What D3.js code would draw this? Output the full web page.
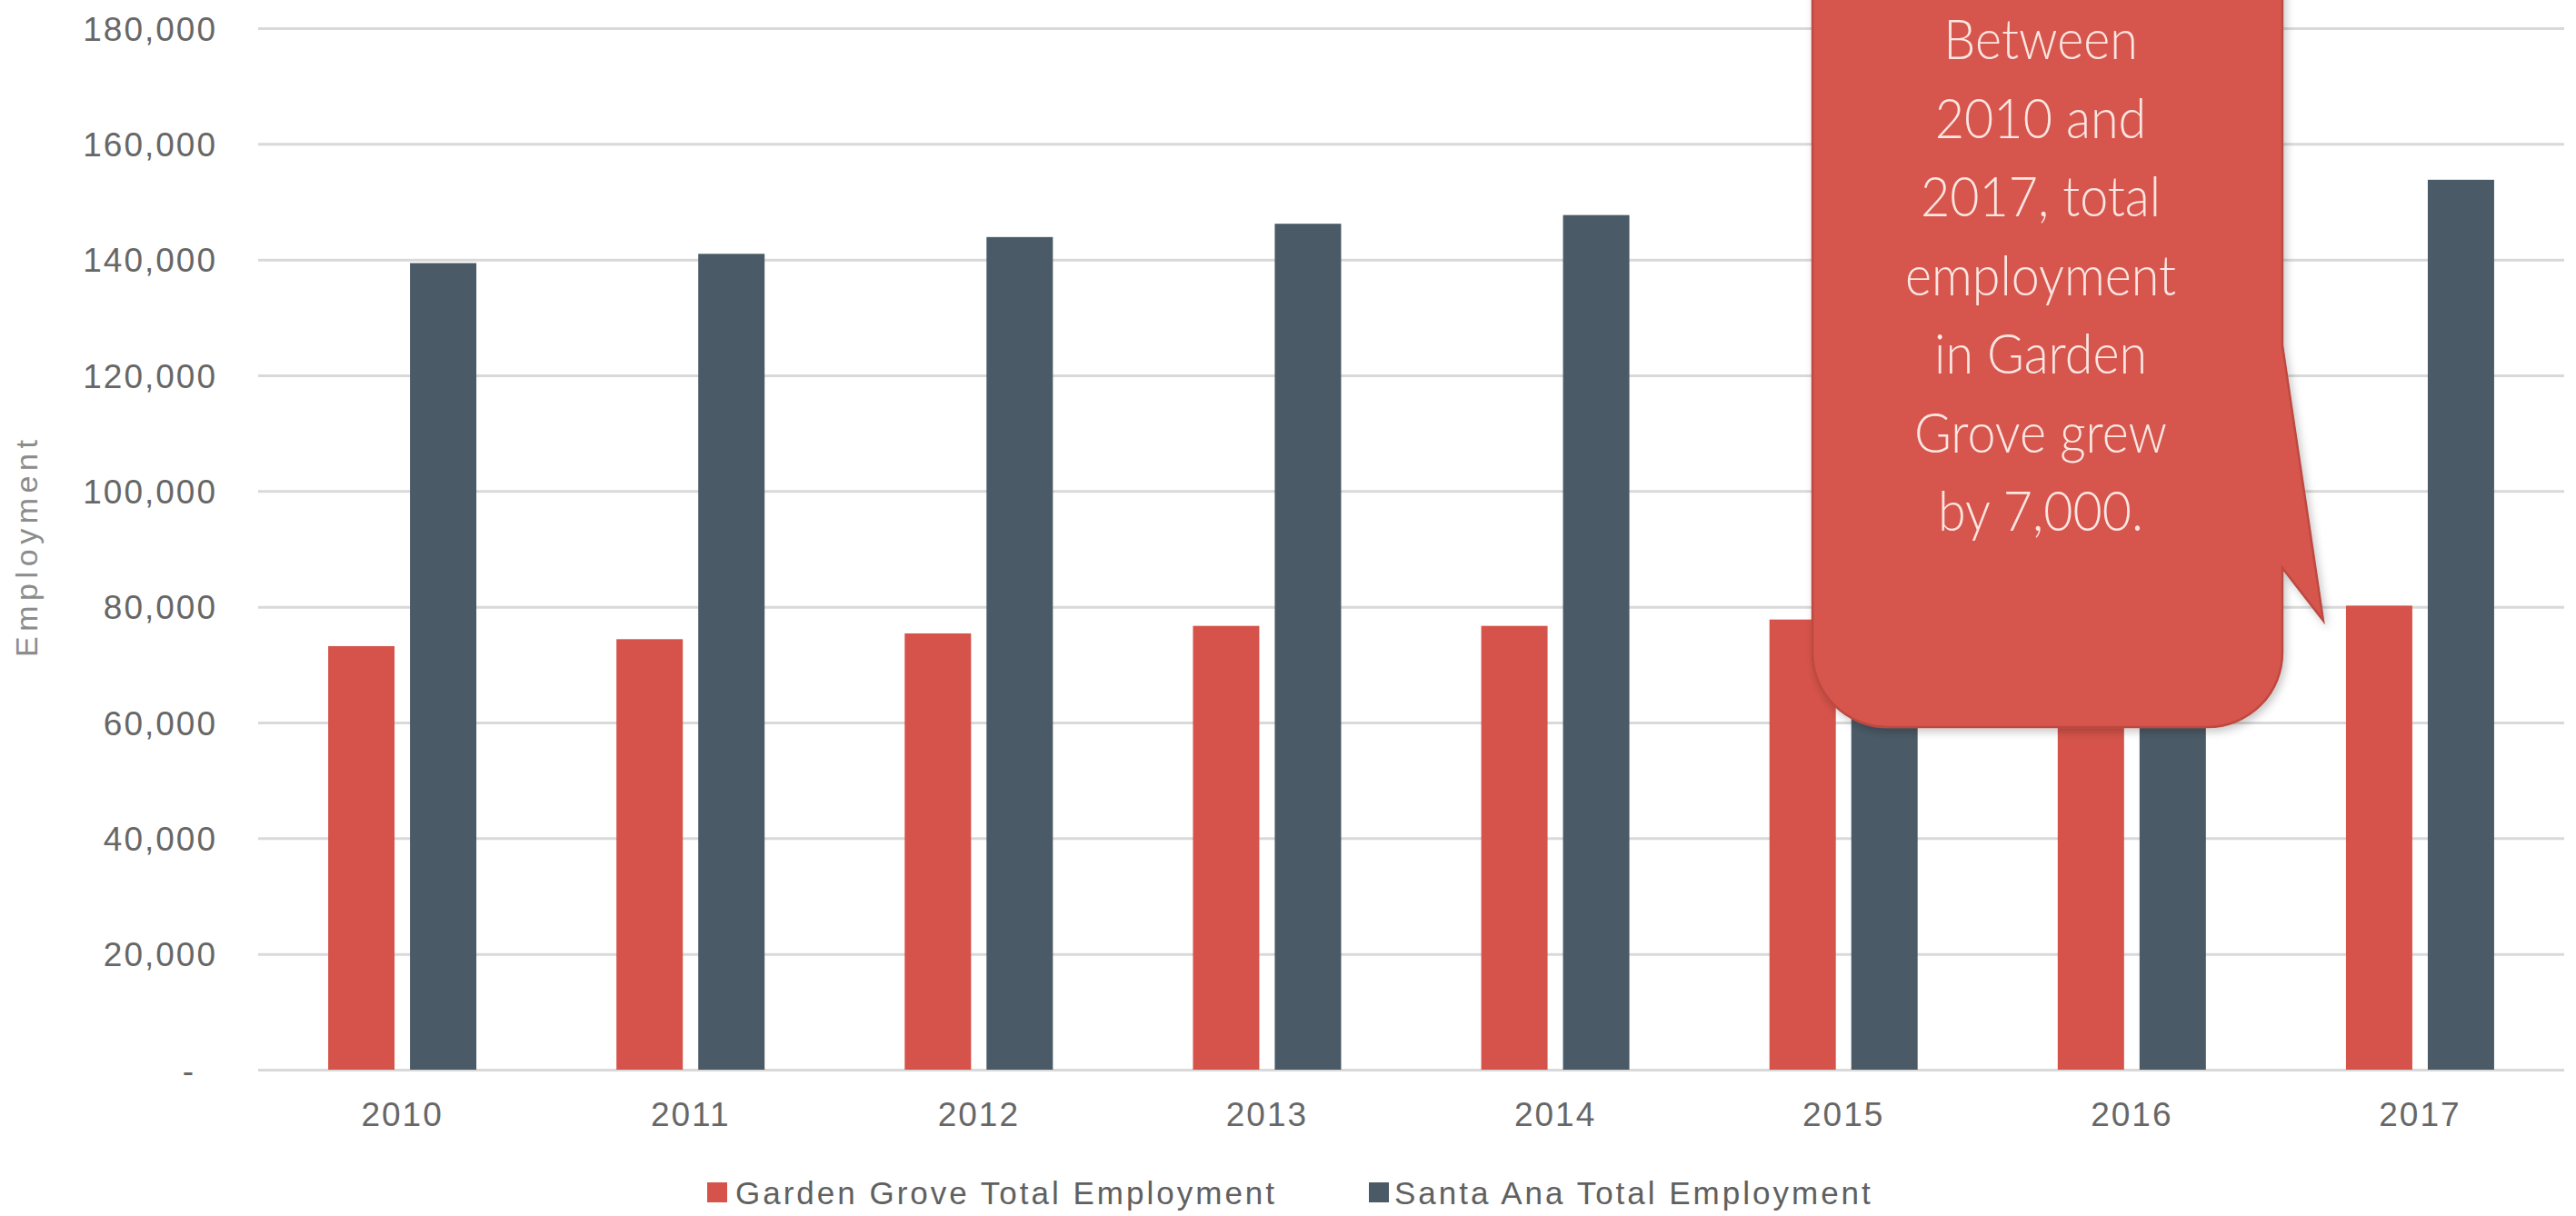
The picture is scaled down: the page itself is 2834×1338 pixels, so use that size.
<!DOCTYPE html>
<html>
<head>
<meta charset="utf-8">
<script src="https://cdn.jsdelivr.net/npm/d3@7"></script>
<style>
  html, body { margin: 0; padding: 0; background: #ffffff; }
  svg { display: block; }
</style>
</head>
<body>
<svg id="chart" width="2834" height="1338"></svg>
<script>
// ---- Data ----
const years = ["2010", "2011", "2012", "2013", "2014", "2015", "2016", "2017"];
const gardenGrove = [73200, 74400, 75400, 76700, 76700, 77800, 79000, 80200];
const santaAna = [139400, 141000, 143900, 146200, 147700, 150000, 151800, 153800];
const seriesNames = ["Garden Grove Total Employment", "Santa Ana Total Employment"];
const yTicks = [0, 20000, 40000, 60000, 80000, 100000, 120000, 140000, 160000, 180000];
const yTitle = "Employment";
const calloutLines = ["Between", "2010 and", "2017, total", "employment", "in Garden", "Grove grew", "by 7,000."];

// ---- Layout ----
const plot = { left: 284, right: 2821, top: 31, bottom: 1177 };
const colors = ["#d5534a", "#4a5a66"];
const svg = d3.select("#chart");

const defs = svg.append("defs");
const f = defs.append("filter").attr("id", "shadow").attr("x", "-10%").attr("y", "-10%").attr("width", "130%").attr("height", "130%");
f.append("feDropShadow").attr("dx", 3).attr("dy", 4).attr("stdDeviation", 5).attr("flood-color", "#000").attr("flood-opacity", 0.22);

const x0 = d3.scaleBand().domain(years).range([plot.left, plot.right]).padding(0);
const groupW = 163;
const x1 = d3.scaleBand().domain([0, 1])
  .range([(x0.bandwidth() - groupW) / 2, (x0.bandwidth() + groupW) / 2])
  .paddingInner(0.1889).paddingOuter(0);
const y = d3.scaleLinear().domain([0, 180000]).range([plot.bottom, plot.top]);

// Gridlines + y labels
const yAxis = d3.axisLeft(y).tickValues(yTicks).tickSize(-(plot.right - plot.left)).tickPadding(45)
  .tickFormat(d => d === 0 ? "-" : d3.format(",")(d));
const gy = svg.append("g").attr("transform", `translate(${plot.left},0)`).call(yAxis);
gy.select(".domain").remove();
gy.selectAll(".tick line").attr("stroke", "#d9d9d9").attr("stroke-width", 3);
gy.selectAll(".tick text")
  .attr("font-family", "'Liberation Sans', Arial, sans-serif")
  .attr("font-size", 37).attr("fill", "#676767").attr("letter-spacing", 2)
  .attr("dy", "0.36em");
gy.selectAll(".tick text").filter(d => d === 0)
  .attr("text-anchor", "middle").attr("x", 207 - plot.left).attr("letter-spacing", 0);

// X axis labels
const xAxis = d3.axisBottom(x0).tickSize(0).tickPadding(36);
const gx = svg.append("g").attr("transform", `translate(0,${plot.bottom})`).call(xAxis);
gx.select(".domain").remove();
gx.selectAll(".tick text")
  .attr("font-family", "'Liberation Sans', Arial, sans-serif")
  .attr("font-size", 37).attr("fill", "#676767").attr("letter-spacing", 2);

// Bars
const rows = years.map((yr, i) => ({ yr, vals: [gardenGrove[i], santaAna[i]] }));
const groups = svg.append("g").selectAll("g").data(rows).join("g")
  .attr("transform", d => `translate(${x0(d.yr)},0)`);
groups.selectAll("rect").data(d => d.vals.map((v, k) => ({ v, k }))).join("rect")
  .attr("x", d => x1(d.k)).attr("width", x1.bandwidth())
  .attr("y", d => y(d.v)).attr("height", d => y(0) - y(d.v))
  .attr("fill", d => colors[d.k]);

// Y title
svg.append("text")
  .attr("transform", `translate(41,${(484 + 723) / 2}) rotate(-90)`)
  .attr("text-anchor", "middle")
  .attr("font-family", "'Liberation Sans', Arial, sans-serif")
  .attr("font-size", 34).attr("fill", "#8c8c8c")
  .attr("textLength", 239).attr("lengthAdjust", "spacing")
  .text(yTitle);

// Legend
const legend = svg.append("g");
const legendItems = [
  { name: seriesNames[0], color: colors[0], sq: 778, tx: 809 },
  { name: seriesNames[1], color: colors[1], sq: 1506, tx: 1534 }
];
legendItems.forEach(it => {
  legend.append("rect").attr("x", it.sq).attr("y", 1301).attr("width", 22).attr("height", 22).attr("fill", it.color);
  legend.append("text").attr("x", it.tx).attr("y", 1312).attr("dominant-baseline", "central")
    .attr("font-family", "'Liberation Sans', Arial, sans-serif")
    .attr("font-size", 35).attr("fill", "#606060").attr("letter-spacing", 3)
    .text(it.name);
});

// Callout
const cx0 = 1994, cx1 = 2511, cTop = -120, cBot = 800, r = 82;
const tip = [2556, 683], attTop = 380, attBot = 625;
const path = d3.path();
path.moveTo(cx0, cTop);
path.lineTo(cx1, cTop);
path.lineTo(cx1, attTop);
path.lineTo(tip[0], tip[1]);
path.lineTo(cx1, attBot);
path.lineTo(cx1, cBot - r);
path.arcTo(cx1, cBot, cx1 - r, cBot, r);
path.lineTo(cx0 + r, cBot);
path.arcTo(cx0, cBot, cx0, cBot - r, r);
path.closePath();
svg.append("path").attr("d", path.toString())
  .attr("fill", "#d6564d").attr("stroke", "#bd4840").attr("stroke-width", 2.5)
  .attr("filter", "url(#shadow)");

const ctext = svg.append("g");
const textCx = 2245;
const lines = ctext.selectAll("text").data(calloutLines).join("text")
  .attr("text-anchor", "middle")
  .attr("font-family", "Lato, 'Open Sans', sans-serif")
  .attr("font-weight", 300)
  .attr("font-size", 61)
  .attr("fill", "#fbe6e2")
  .text(d => d);
const ref = lines.filter(d => d === "employment").node();
const k = ref ? Math.min(1, 298 / ref.getComputedTextLength()) : 1;
lines.attr("transform", (d, i) => `translate(${textCx},${65 + i * 86.5}) scale(${k},1)`);
</script>
</body>
</html>
